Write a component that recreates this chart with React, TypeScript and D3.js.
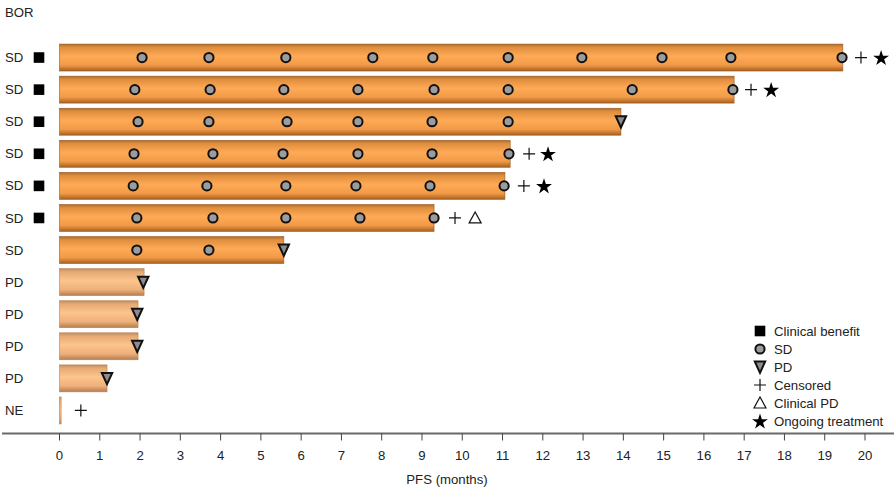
import React from "react";
import * as d3 from "d3";

const bor = ["SD", "SD", "SD", "SD", "SD", "SD", "SD", "PD", "PD", "PD", "PD", "NE"];
const clinicalBenefit = [true, true, true, true, true, true, false, false, false, false, false, false];
const pfs = [19.45, 16.75, 13.94, 11.19, 11.06, 9.3, 5.57, 2.1, 1.95, 1.95, 1.18, 0.04];
const sdAssessments: number[][] = [
  [2.05, 3.71, 5.62, 7.78, 9.27, 11.14, 12.97, 14.96, 16.67, 19.43],
  [1.87, 3.74, 5.57, 7.41, 9.3, 11.14, 14.22, 16.72],
  [1.95, 3.71, 5.65, 7.41, 9.25, 11.14],
  [1.85, 3.81, 5.55, 7.41, 9.25, 11.16],
  [1.83, 3.66, 5.62, 7.36, 9.2, 11.04],
  [1.92, 3.81, 5.62, 7.46, 9.3],
  [1.92, 3.71],
  [], [], [], [], [],
];
const pdTimes: (number | null)[] = [null, null, 13.94, null, null, null, 5.57, 2.08, 1.93, 1.93, 1.18, null];
const censoredTimes: (number | null)[] = [19.9, 17.17, null, 11.66, 11.53, 9.82, null, null, null, null, null, 0.53];
const clinicalPDTimes: (number | null)[] = [null, null, null, null, null, 10.32, null, null, null, null, null, null];
const ongoingTimes: (number | null)[] = [20.4, 17.67, null, 12.13, 12.03, null, null, null, null, null, null, null];
const xTicks = d3.range(0, 21);
const legendItems = ["Clinical benefit", "SD", "PD", "Censored", "Clinical PD", "Ongoing treatment"];

const W = 894;
const H = 491;
const FONT = "'Liberation Sans', Arial, sans-serif";
const FS = 13.2;

function Marker({ type, x, y }: { type: string; x: number; y: number }) {
  if (type === "square") return <rect x={x - 5.3} y={y - 5.3} width={10.6} height={10.6} fill="#000" />;
  if (type === "circle")
    return <circle cx={x} cy={y} r={4.6} fill="#9c9c9c" stroke="#111" strokeWidth={2} />;
  if (type === "triDown")
    return (
      <path
        d={`M${x - 5.2},${y - 5.5}L${x + 5.2},${y - 5.5}L${x},${y + 5.8}Z`}
        fill="#8c8c8c"
        stroke="#111"
        strokeWidth={2}
        strokeLinejoin="miter"
      />
    );
  if (type === "plus")
    return (
      <path d={`M${x - 6},${y}H${x + 6}M${x},${y - 6}V${y + 6}`} stroke="#111" strokeWidth={1.2} fill="none" />
    );
  if (type === "triUp")
    return (
      <path
        d={`M${x - 6},${y + 5}L${x + 6},${y + 5}L${x},${y - 6}Z`}
        fill="#fff"
        stroke="#111"
        strokeWidth={1.2}
      />
    );
  if (type === "star") {
    const p = d3.symbol(d3.symbolStar, 78)();
    return <path d={p as string} transform={`translate(${x},${y + 0.8})`} fill="#000" />;
  }
  return null;
}

export default function App() {
  const x = d3.scaleLinear().domain([0, 20]).range([59.5, 865]);
  const ids = bor.map((_, i) => String(i));
  const y = d3.scaleBand().domain(ids).range([41.5, 426.5]).paddingInner(0.16).paddingOuter(0.08);
  const bw = y.bandwidth();
  const axisY = 433.5;
  const legendTypes = ["square", "circle", "triDown", "plus", "triUp", "star"];

  return (
    <svg width={W} height={H} style={{ position: "absolute", left: 0, top: 0 }} fontFamily={FONT}>
      <defs>
        <linearGradient id="gSD" x1="0" y1="0" x2="0" y2="1">
          <stop offset="0" stopColor="#b06a2a" />
          <stop offset="0.12" stopColor="#df8e3e" />
          <stop offset="0.45" stopColor="#ffaa56" />
          <stop offset="0.78" stopColor="#f19a47" />
          <stop offset="1" stopColor="#a6601f" />
        </linearGradient>
        <linearGradient id="gPD" x1="0" y1="0" x2="0" y2="1">
          <stop offset="0" stopColor="#c08c60" />
          <stop offset="0.12" stopColor="#e6aa72" />
          <stop offset="0.45" stopColor="#fcc48e" />
          <stop offset="0.78" stopColor="#efb07a" />
          <stop offset="1" stopColor="#b47c4e" />
        </linearGradient>
      </defs>
      <rect width={W} height={H} fill="#fff" />
      <text x={5} y={17} fontSize={FS} fill="#222">BOR</text>

      {bor.map((b, i) => {
        const cy = (y(String(i)) as number) + bw / 2;
        const x0 = x(0);
        const x1 = x(pfs[i]);
        return (
          <g key={i}>
            <text x={5} y={cy + 4.6} fontSize={FS} fill="#222">{b}</text>
            {clinicalBenefit[i] && <Marker type="square" x={39} y={cy} />}
            <rect
              x={x0}
              y={y(String(i)) as number}
              width={Math.max(1.2, x1 - x0)}
              height={bw}
              fill={b === "SD" ? "url(#gSD)" : "url(#gPD)"}
              stroke={b === "SD" ? "#9a5c25" : "#b78356"}
              strokeWidth={0.6}
            />
            {sdAssessments[i].map((t, j) => (
              <Marker key={j} type="circle" x={x(t)} y={cy} />
            ))}
            {pdTimes[i] != null && <Marker type="triDown" x={x(pdTimes[i] as number)} y={cy} />}
            {censoredTimes[i] != null && <Marker type="plus" x={x(censoredTimes[i] as number)} y={cy} />}
            {clinicalPDTimes[i] != null && <Marker type="triUp" x={x(clinicalPDTimes[i] as number)} y={cy} />}
            {ongoingTimes[i] != null && <Marker type="star" x={x(ongoingTimes[i] as number)} y={cy} />}
          </g>
        );
      })}

      <line x1={2} x2={894} y1={axisY} y2={axisY} stroke="#6a6a6a" strokeWidth={2} />
      {xTicks.map((t) => (
        <g key={t}>
          <line x1={x(t)} x2={x(t)} y1={axisY} y2={axisY + 7} stroke="#444" strokeWidth={1} />
          <text x={x(t)} y={460} fontSize={FS} textAnchor="middle" fill="#222">{t}</text>
        </g>
      ))}
      <text x={447} y={484} fontSize={FS} textAnchor="middle" fill="#222">PFS (months)</text>

      {legendItems.map((name, i) => {
        const ly = 331 + i * 18;
        return (
          <g key={name}>
            <Marker type={legendTypes[i]} x={760} y={ly} />
            <text x={774} y={ly + 4.6} fontSize={FS} fill="#222">{name}</text>
          </g>
        );
      })}
    </svg>
  );
}
